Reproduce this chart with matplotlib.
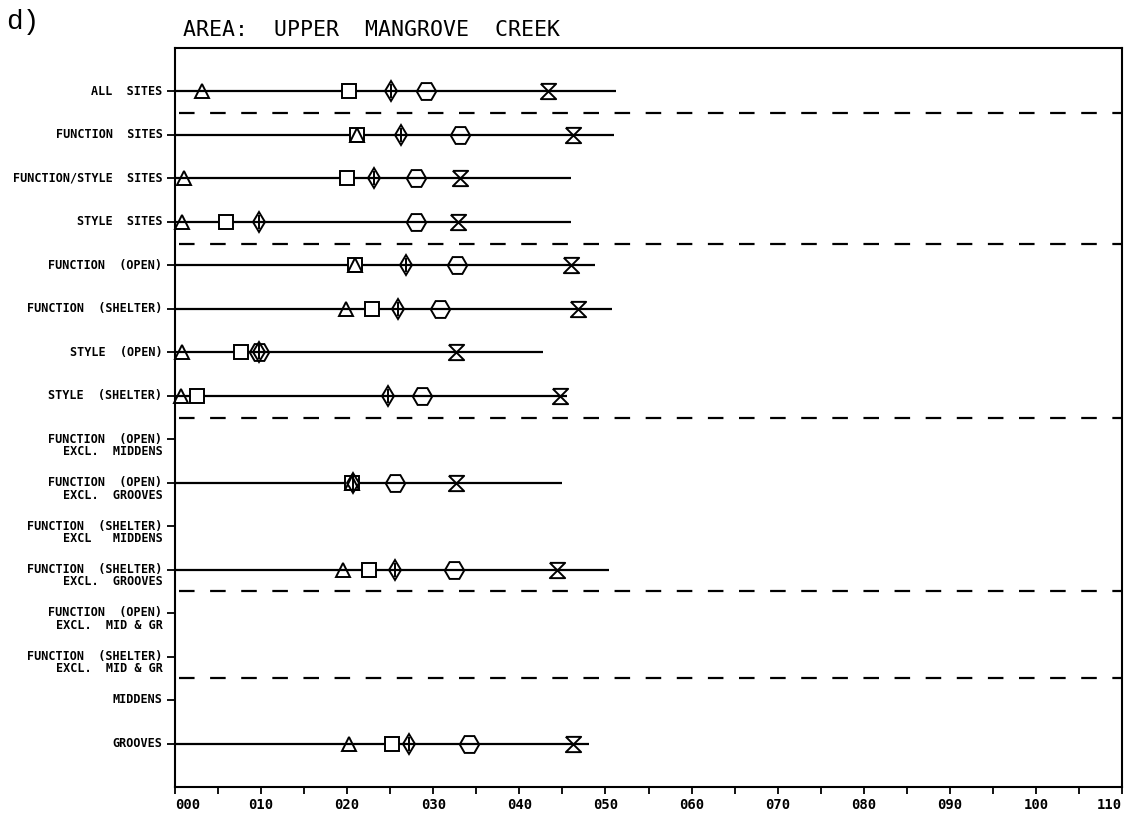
import numpy as np
import matplotlib
matplotlib.use("Agg")
import matplotlib.pyplot as plt
from matplotlib.path import Path

nan = np.nan

row_labels = [
    "ALL  SITES",
    "FUNCTION  SITES",
    "FUNCTION/STYLE  SITES",
    "STYLE  SITES",
    "FUNCTION  (OPEN)",
    "FUNCTION  (SHELTER)",
    "STYLE  (OPEN)",
    "STYLE  (SHELTER)",
    "FUNCTION  (OPEN)\nEXCL.  MIDDENS",
    "FUNCTION  (OPEN)\nEXCL.  GROOVES",
    "FUNCTION  (SHELTER)\nEXCL   MIDDENS",
    "FUNCTION  (SHELTER)\nEXCL.  GROOVES",
    "FUNCTION  (OPEN)\nEXCL.  MID & GR",
    "FUNCTION  (SHELTER)\nEXCL.  MID & GR",
    "MIDDENS",
    "GROOVES",
]

# values, one per row (nan = no data)
triangle = [3.1, 21.1, 1.0, 0.8, 20.9, 19.9, 0.8, 0.7, nan, 20.6, nan, 19.5, nan, nan, nan, 20.2]
square = [20.2, 21.1, 20.0, 5.9, 20.9, 22.9, 7.7, 2.6, nan, 20.6, nan, 22.5, nan, nan, nan, 25.2]
diamond = [25.1, 26.2, 23.1, 9.8, 26.8, 25.9, 9.7, 24.7, nan, 20.7, nan, 25.5, nan, nan, nan, 27.2]
hexagon = [29.2, 33.1, 28.0, 28.0, 32.8, 30.8, 9.7, 28.7, nan, 25.6, nan, 32.4, nan, nan, nan, 34.2]
hourglass = [43.3, 46.2, 33.1, 32.9, 46.0, 46.8, 32.6, 44.7, nan, 32.6, nan, 44.4, nan, nan, nan, 46.2]
line_end = [51.2, 51.0, 46.0, 46.0, 48.8, 50.8, 42.8, 45.5, nan, 45.0, nan, 50.4, nan, nan, nan, 48.1]

separators = [0.5, 3.5, 7.5, 11.5, 13.5]
x_major = np.arange(0, 111, 10)
x_minor = np.arange(5, 110, 10)

hourglass_marker = Path([(-1, 1), (1, 1), (-1, -1), (1, -1), (-1, 1)])

fig = plt.figure(figsize=(11.32, 8.16), dpi=100)
ax = fig.add_axes([175 / 1132, 29 / 816, 947 / 1132, 739 / 816])

rows = np.arange(len(row_labels))
ends = np.array(line_end)
has = ~np.isnan(ends)
ax.hlines(rows[has], 0, ends[has], color="black", lw=1.6, zorder=2)

for y in separators:
    ax.axhline(y, xmin=0.004, xmax=1, color="black", lw=1.6, dashes=(7, 7), zorder=1)

mk = dict(ls="none", color="black", mew=1.4, clip_on=False, zorder=3)
ax.plot(square, rows, marker="s", ms=10.5, mfc="white", **mk)
ax.plot(triangle, rows, marker="^", ms=10, mfc="none", **mk)
ax.plot(diamond, rows, marker="d", ms=10, mfc="none", **mk)
ax.plot(diamond, rows, marker="|", ms=10, **mk)
ax.plot(hexagon, rows, marker="H", ms=14, mfc="none", **mk)
ax.plot(hourglass, rows, marker=hourglass_marker, ms=11, mfc="none", **mk)

ax.set_xlim(0, 110)
ax.set_ylim(16, -1)

ax.set_xticks(x_major)
xlabels = ax.set_xticklabels([f"{v:03d}" for v in x_major], family="DejaVu Sans Mono",
                             weight="bold", fontsize=10)
xlabels[0].set_horizontalalignment("left")
xlabels[-1].set_horizontalalignment("right")
ax.set_xticks(x_minor, minor=True)
ax.tick_params(axis="x", which="both", direction="out", length=5, width=1.3, pad=3)

ax.set_yticks(rows)
ax.set_yticklabels([])
ax.tick_params(axis="y", direction="out", length=6, width=1.3)

for i, lab in enumerate(row_labels):
    ax.annotate(lab, xy=(0, i), xycoords=("axes fraction", "data"),
                xytext=(-9, 4.8), textcoords="offset points",
                ha="right", va="top", multialignment="right",
                family="DejaVu Sans Mono", weight="bold", fontsize=8.5,
                linespacing=0.95)

for s in ax.spines.values():
    s.set_linewidth(1.5)

fig.text(183 / 1132, 1 - 30 / 816, "AREA:  UPPER  MANGROVE  CREEK", family="DejaVu Sans Mono",
         fontsize=15.5, ha="left", va="center")
fig.text(6 / 1132, 1 - 22 / 816, "d)", family="Liberation Mono", fontsize=20,
         ha="left", va="center")

fig.savefig("out.png", dpi=100)
